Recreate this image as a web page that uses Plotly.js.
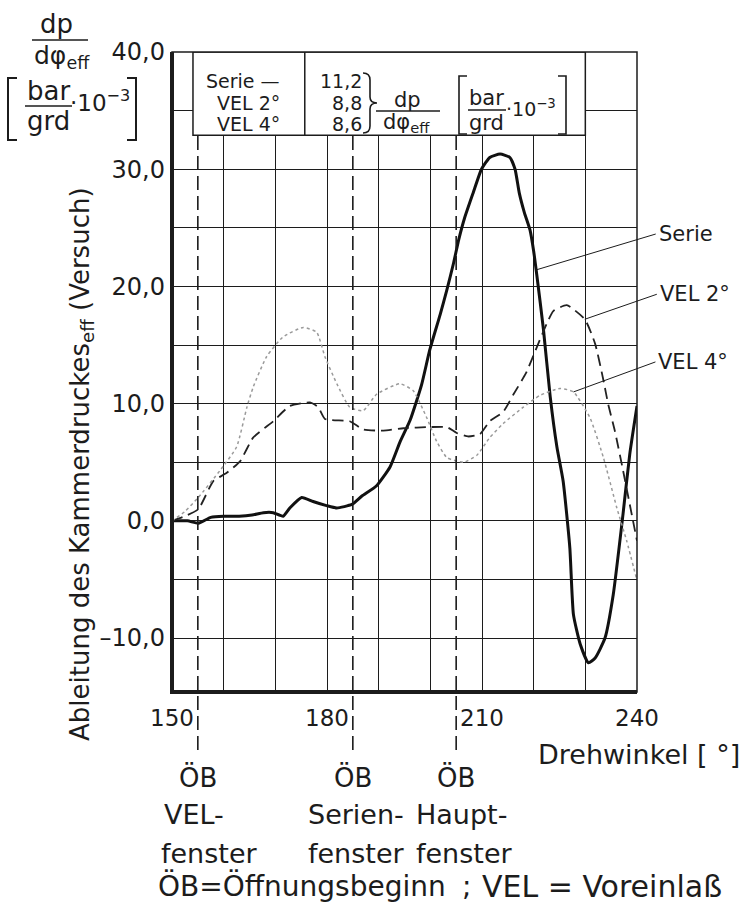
<!DOCTYPE html>
<html><head><meta charset="utf-8">
<script src="https://cdn.plot.ly/plotly-3.0.1.min.js"></script>
<style>html,body{margin:0;padding:0;background:#fff;}#chart{width:744px;height:914px;}</style>
</head><body><div id="chart"></div>
<script>
// ---- data ----
const serieAngle = [150, 153, 155.1, 157.5, 160, 163, 165.5, 167.7, 169.6, 171.5, 172.8, 175.1, 177.3, 179.9, 181.9, 184.8, 186.7, 189.6, 192.2, 194.1, 196.1, 198.3, 199.9, 201.9, 203.2, 204.5, 205.5, 206.6, 208.3, 209.9, 211.5, 213.5, 215.4, 216.4, 217.2, 218.2, 219.3, 220.0, 220.6, 221.9, 223.2, 224.5, 225.7, 227.0, 227.7, 229.0, 230.6, 231.9, 233.8, 235.4, 237.3, 238.6, 240];
const serieValue = [0, 0, -0.2, 0.3, 0.4, 0.4, 0.5, 0.7, 0.7, 0.4, 1.1, 2.0, 1.65, 1.3, 1.1, 1.4, 2.1, 3.0, 4.6, 6.7, 8.6, 11.6, 14.6, 17.6, 19.7, 22.0, 24.0, 25.8, 28.0, 30.0, 31.0, 31.3, 31.0, 30.0, 28.0, 26.3, 24.8, 23.0, 21.0, 16.3, 10.6, 6.3, 3.4, -2.3, -8.0, -10.5, -12.1, -11.7, -10.0, -6.3, 0.6, 5.7, 9.8];
const vel2Angle = [150, 152.5, 155.1, 158.0, 160.6, 163.2, 165.7, 169.6, 172.8, 176.7, 178.3, 179.6, 184.4, 187.0, 190.9, 194.8, 199.9, 203.2, 205.1, 207.3, 209.6, 211.5, 214.1, 216.1, 218.5, 220.6, 222.5, 223.8, 226.4, 229.9, 231.9, 233.5, 234.4, 235.7, 237.3, 238.6, 240];
const vel2Value = [0, 0.4, 1.0, 3.4, 4.1, 5.1, 7.1, 8.5, 9.8, 10.1, 9.7, 8.7, 8.5, 7.8, 7.7, 7.9, 8.0, 8.0, 7.5, 7.2, 7.4, 8.5, 9.3, 10.8, 12.6, 14.8, 16.8, 17.9, 18.4, 17.2, 15.1, 12.0, 10.0, 7.7, 4.3, 1.4, -1.7];
const vel4Angle = [150, 152.5, 155.1, 159.3, 162.5, 164.5, 165.7, 168.3, 171.5, 175.4, 178.0, 179.6, 181.9, 184.4, 187.0, 189.6, 194.1, 196.7, 199.3, 201.2, 203.2, 206.4, 209.0, 211.5, 214.1, 218.0, 221.2, 225.1, 227.7, 230.9, 233.5, 236.1, 238.0, 240];
const vel4Value = [0, 0.8, 2.0, 4.3, 6.3, 9.7, 11.4, 14.0, 15.7, 16.5, 16.1, 14.0, 11.7, 9.7, 9.4, 10.8, 11.7, 11.1, 8.8, 6.8, 5.4, 5.0, 5.6, 7.1, 8.3, 9.7, 10.7, 11.3, 11.0, 8.8, 5.4, 1.1, -1.7, -5.1];

const xTickVals = [150, 180, 210, 240];
const xTickText = ['150', '180', '210', '240'];
const xGridStep = 10;
const yTickVals = [-10, 0, 10, 20, 30, 40];
const yTickText = ['\u201310,0', '0,0', '10,0', '20,0', '30,0', '40,0'];
const yGridStep = 5;

const obAngles = [155, 185, 205];
const legendNames = ['Serie \u2014', 'VEL 2\u00b0', 'VEL 4\u00b0'];
const legendMax = ['11,2', '8,8', '8,6'];
const seriesLabels = ['Serie', 'VEL 2\u00b0', 'VEL 4\u00b0'];
const labelAnchorAngle = [220.4, 229.9, 227.7];
const labelAnchorValue = [21.4, 17.2, 11.0];

// ---- layout helpers (pixel -> paper) ----
const L = 172, R = 637, T = 52, B = 692;
const fx = px => (px - L) / (R - L);
const fy = py => (B - py) / (B - T);
const FONT = 'DejaVu Sans';
const INK = '#1c1c1c';

function txt(text, px, py, size, xanchor, extra) {
  return Object.assign({
    text: text, x: fx(px), y: fy(py), xref: 'paper', yref: 'paper',
    xanchor: xanchor || 'center', yanchor: 'middle', showarrow: false, borderpad: 0,
    font: {family: FONT, size: size, color: INK}
  }, extra || {});
}
function pline(x0, y0, x1, y1, w) {
  return {type: 'line', xref: 'paper', yref: 'paper', x0: fx(x0), y0: fy(y0), x1: fx(x1), y1: fy(y1),
    line: {color: INK, width: w || 1.5}};
}
function ppath(pts, w) {
  let d = '';
  pts.forEach(p => {
    d += p[0];
    const c = [];
    for (let i = 1; i < p.length; i += 2) c.push(fx(p[i]) + ',' + fy(p[i + 1]));
    d += c.join(' ') + ' ';
  });
  return {type: 'path', xref: 'paper', yref: 'paper', path: d.trim(), line: {color: INK, width: w || 1.8}};
}

const traces = [
  {x: serieAngle, y: serieValue, mode: 'lines', line: {color: '#111', width: 3, shape: 'spline', smoothing: 0.5}},
  {x: vel2Angle, y: vel2Value, mode: 'lines', line: {color: '#222', width: 1.8, dash: '11px,6px', shape: 'spline', smoothing: 0.5}},
  {x: vel4Angle, y: vel4Value, mode: 'lines', line: {color: '#9a9a9a', width: 1.5, dash: 'dot', shape: 'spline', smoothing: 0.5}}
];

const shapes = [];
obAngles.forEach(a => shapes.push({type: 'line', xref: 'x', yref: 'paper', x0: a, x1: a, y0: fy(750), y1: fy(134),
  line: {color: INK, width: 1.6, dash: '14px,6px'}}));
shapes.push({type: 'rect', xref: 'x', yref: 'y', x0: 154.06, x1: 230, y0: 32.9, y1: 40,
  fillcolor: '#fff', line: {color: INK, width: 1.5}});
shapes.push({type: 'line', xref: 'x', yref: 'y', x0: 175.7, x1: 175.7, y0: 32.9, y1: 40, line: {color: INK, width: 1.5}});
shapes.push({type: 'rect', xref: 'paper', yref: 'paper', x0: 0, x1: 1, y0: 0, y1: 1, line: {color: INK, width: 1.5}});
shapes.push({type: 'line', xref: 'paper', yref: 'paper', x0: 0, x1: 0, y0: -0.003, y1: 1, line: {color: INK, width: 4}});
shapes.push({type: 'line', xref: 'paper', yref: 'paper', x0: -0.004, x1: 1, y0: 0, y1: 0, line: {color: INK, width: 4}});
shapes.push(pline(32, 40, 88, 40, 1.6));
shapes.push(pline(25, 106, 72, 106, 1.6));
shapes.push(ppath([['M', 17, 78], ['L', 8, 78], ['L', 8, 140], ['L', 17, 140]], 2));
shapes.push(ppath([['M', 127, 78], ['L', 136, 78], ['L', 136, 140], ['L', 127, 140]], 2));
shapes.push(ppath([['M', 363, 73], ['Q', 370, 73, 370, 80], ['L', 370, 97], ['Q', 370, 103, 377, 103],
  ['Q', 370, 103, 370, 109], ['L', 370, 126], ['Q', 370, 133, 363, 133]], 1.6));
shapes.push(pline(376, 111, 440, 111, 1.4));
shapes.push(pline(468, 110, 506, 110, 1.4));
shapes.push(ppath([['M', 467, 76], ['L', 459, 76], ['L', 459, 134], ['L', 467, 134]], 1.6));
shapes.push(ppath([['M', 558, 76], ['L', 566, 76], ['L', 566, 134], ['L', 558, 134]], 1.6));

const ann = [];
ann.push(txt('dp', 56, 24, 26));
ann.push(txt('d\u03c6<sub>eff</sub>', 62, 57, 25));
ann.push(txt('bar', 48, 91, 26));
ann.push(txt('grd', 48, 121, 26));
ann.push(txt('\u00b710<sup>\u22123</sup>', 69, 101, 23, 'left'));
const legendY = [81, 103, 124];
legendNames.forEach((n, i) => ann.push(txt(n, 281, legendY[i], 19, 'right')));
legendMax.forEach((n, i) => ann.push(txt(n, 363, legendY[i], 19, 'right')));
ann.push(txt('dp', 407, 100, 21));
ann.push(txt('d\u03c6<sub>eff</sub>', 406, 123, 21));
ann.push(txt('bar', 486, 98, 21));
ann.push(txt('grd', 486, 123, 21));
ann.push(txt('\u00b710<sup>\u22123</sup>', 505, 108, 19, 'left'));
const labelShift = [[120, -36], [72, -25], [82, -30]];
seriesLabels.forEach((s, i) => ann.push({
  text: s, x: labelAnchorAngle[i], y: labelAnchorValue[i], xref: 'x', yref: 'y',
  ax: labelShift[i][0], ay: labelShift[i][1], showarrow: true, arrowhead: 0, arrowwidth: 1,
  arrowcolor: INK, standoff: 0, xanchor: 'left', yanchor: 'middle', borderpad: 2,
  font: {family: FONT, size: 21, color: INK}
}));
ann.push(txt('Ableitung des Kammerdruckes<sub>eff</sub> (Versuch)', 81, 464, 26, 'center', {textangle: -90}));
ann.push(txt('Drehwinkel [ \u00b0]', 741, 754, 27, 'right'));
obAngles.forEach(a => ann.push({text: '\u00d6B', x: a, y: fy(777), xref: 'x', yref: 'paper', showarrow: false,
  xanchor: 'center', yanchor: 'middle', font: {family: FONT, size: 26, color: INK}}));
ann.push(txt('VEL-', 163, 814, 27, 'left'));
ann.push(txt('Serien-', 307, 814, 27, 'left'));
ann.push(txt('Haupt-', 415, 814, 27, 'left'));
ann.push(txt('fenster', 160, 853, 27, 'left'));
ann.push(txt('fenster', 307, 853, 27, 'left'));
ann.push(txt('fenster', 415, 853, 27, 'left'));
ann.push(txt('\u00d6B=\u00d6ffnungsbeginn', 157, 886, 28, 'left'));
ann.push(txt(';', 466, 886, 28, 'center'));
ann.push(txt('VEL\u00a0=\u00a0Voreinla\u00df', 481, 886, 30, 'left'));

const gridStyle = {showgrid: true, gridcolor: INK, gridwidth: 1};
const layout = {
  width: 744, height: 914,
  margin: {l: L, r: 744 - R, t: T, b: 914 - B, pad: 0},
  paper_bgcolor: '#fff', plot_bgcolor: '#fff',
  showlegend: false, hovermode: false, dragmode: false,
  font: {family: FONT, color: INK},
  xaxis: Object.assign({range: [150, 240], tickmode: 'array', tickvals: xTickVals, ticktext: xTickText,
    zeroline: false, showline: false, fixedrange: true,
    ticks: '', ticklabelstandoff: 10, tickfont: {family: FONT, size: 23, color: INK},
    minor: Object.assign({tick0: 150, dtick: xGridStep, ticks: ''}, gridStyle)}, gridStyle),
  yaxis: Object.assign({range: [-14.6, 40], tickmode: 'array', tickvals: yTickVals, ticktext: yTickText,
    zeroline: false, showline: false, fixedrange: true,
    ticks: '', ticklabelstandoff: 6, tickfont: {family: FONT, size: 24, color: INK},
    minor: Object.assign({tick0: 0, dtick: yGridStep, ticks: ''}, gridStyle)}, gridStyle),
  shapes: shapes,
  annotations: ann
};

Plotly.newPlot('chart', traces, layout, {displayModeBar: false, responsive: false});
</script></body></html>
